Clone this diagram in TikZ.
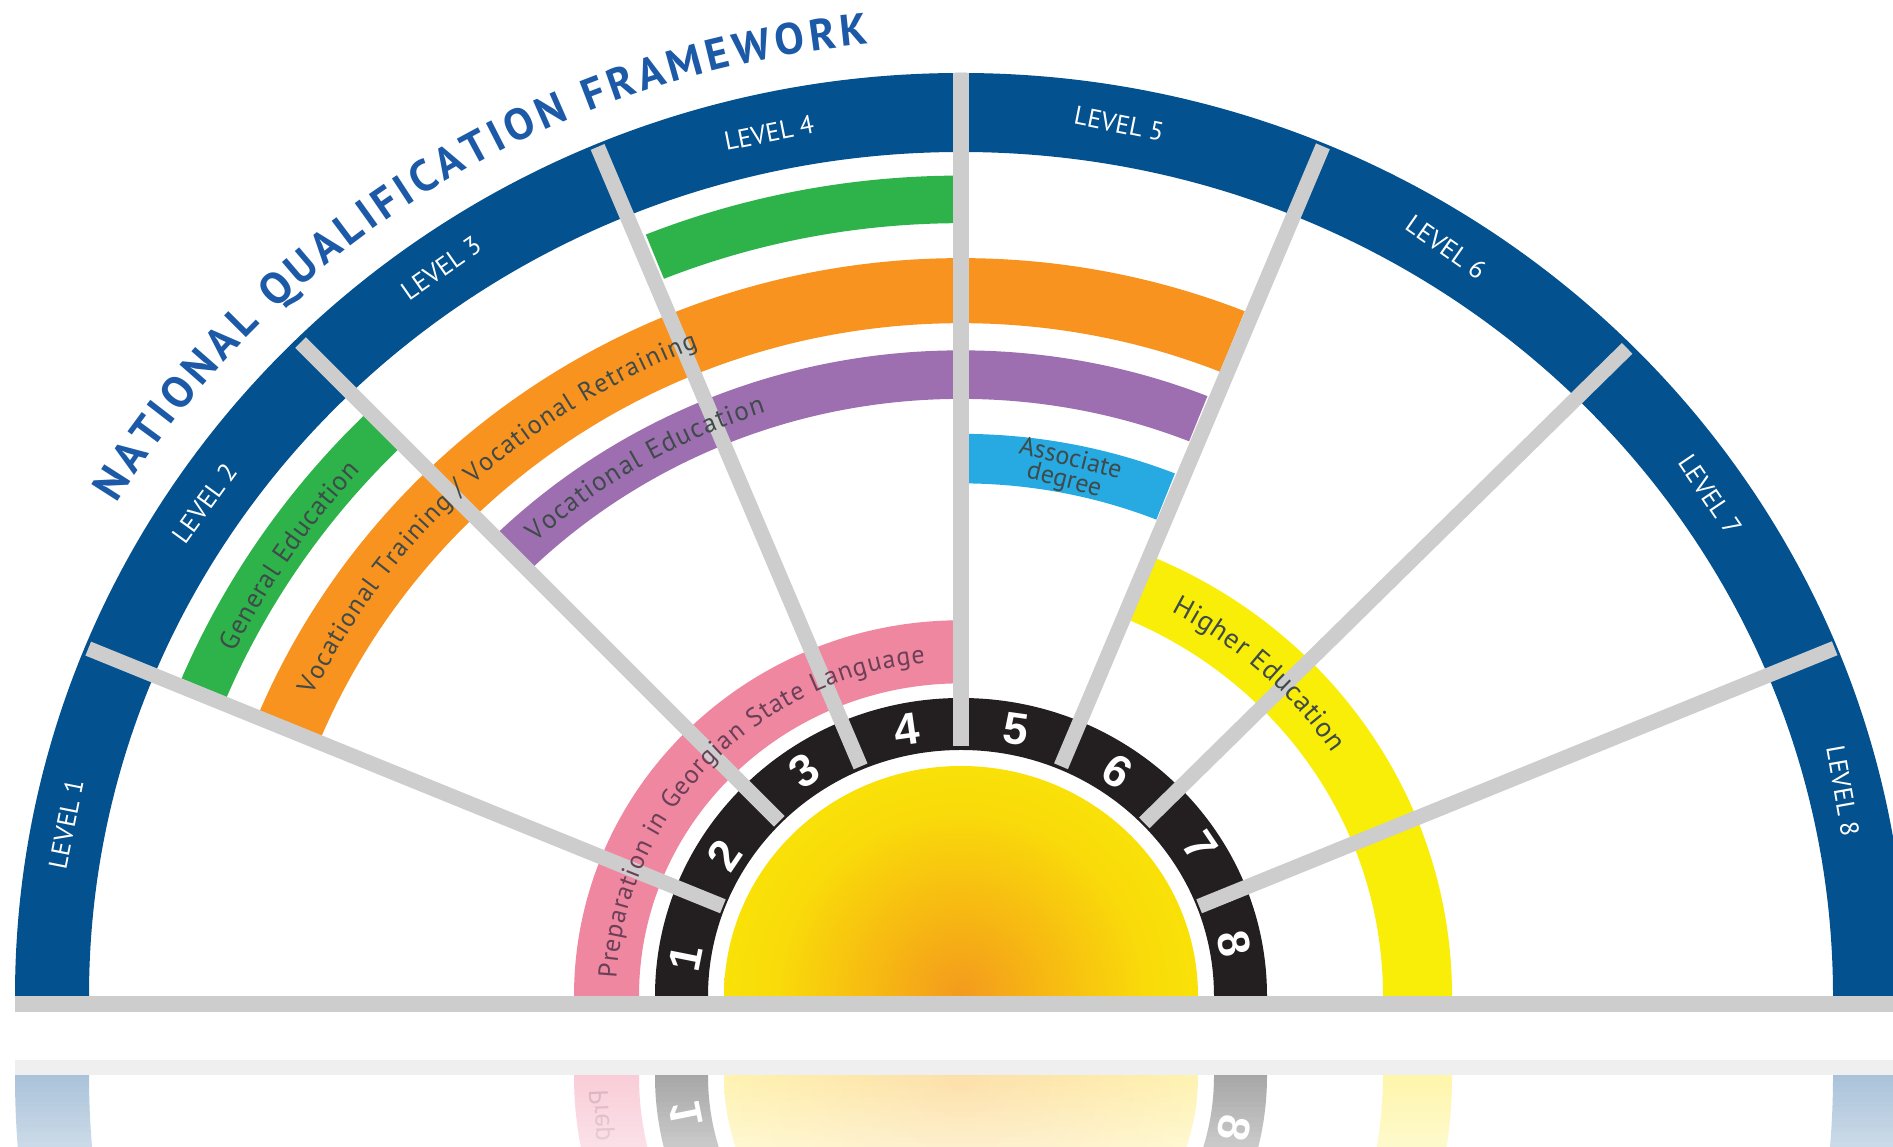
\documentclass[tikz,border=0pt]{standalone}
\usepackage{fontspec}
\setmainfont{PT Sans}
\newfontfamily\numfont{Liberation Sans}
\usetikzlibrary{calc,decorations.text}
\definecolor{ringblue}{HTML}{03518F}
\definecolor{titleblue}{HTML}{1C5AA8}
\definecolor{bandgreen}{HTML}{2DB34A}
\definecolor{bandorange}{HTML}{F7931E}
\definecolor{bandpurple}{HTML}{9E6FB0}
\definecolor{bandsky}{HTML}{27AAE1}
\definecolor{bandyellow}{HTML}{F8EE07}
\definecolor{bandpink}{HTML}{EF87A0}
\definecolor{ringblack}{HTML}{231F20}
\definecolor{raygrey}{HTML}{CDCDCD}
\definecolor{txtdark}{HTML}{3F4A4A}
\definecolor{txtpink}{HTML}{6B3F58}
\definecolor{sunA}{HTML}{F39A1E}
\definecolor{sunB}{HTML}{F6B214}
\definecolor{sunC}{HTML}{F9DA0A}
\definecolor{sunD}{HTML}{F9EC06}
\definecolor{sunE}{HTML}{F8EE08}
\definecolor{refA}{HTML}{FDDFA8}
\definecolor{refB}{HTML}{FEF3B0}
\pgfdeclareradialshading{sunshade}{\pgfpointorigin}{color(0bp)=(sunA); color(7bp)=(sunB); color(19bp)=(sunC); color(32bp)=(sunD); color(50bp)=(sunE)}
\pgfdeclareradialshading{sunreflect}{\pgfpointorigin}{color(0bp)=(refA); color(25bp)=(refB); color(50bp)=(refB)}
\newcommand{\lblfont}{\fontsize{27}{29}\selectfont}
\newcommand{\band}[5]{%
  \begin{scope}
    \clip (C) -- ($(C)+(#4:1500)$) -- ($(C)+(#5:1500)$) -- cycle;
    \fill[#1,even odd rule] (O) ellipse [x radius=#2,y radius=#2/1.03] (O) ellipse [x radius=#3,y radius=#3/1.03];
  \end{scope}}
\newcommand{\curved}[6]{% text, color, xr, from, to, font size
  \path[decorate,decoration={text along path,text align={fit to path},text={|\fontsize{#6}{#6}\selectfont\color{#2}|#1}}]
    ($(O)+(#4:#3 and #3/1.03)$) arc[start angle=#4,end angle=#5,x radius=#3,y radius=#3/1.03];}
\tikzset{
  raybar/.style={draw=raygrey,line width=15pt},
  levellabel/.style={text=white,font=\fontsize{26}{28}\selectfont,inner sep=0pt},
  numlabel/.style={text=white,font=\numfont\bfseries\fontsize{45}{47}\selectfont,inner sep=0pt},
  baseplate/.style={fill=raygrey}
}
\begin{document}
\begin{tikzpicture}[x=1pt,y=1pt]
\useasboundingbox (0,0) rectangle (1893,1147);
\clip (0,0) rectangle (1893,1147);
\fill[white] (0,0) rectangle (1893,1147);
\coordinate (O) at (961,151);
\coordinate (C) at (961,144);
\coordinate (M) at (961,71);
% reflection
\begin{scope}
  \clip (0,0) rectangle (1893,71);
  \fill[color={rgb,255:red,169;green,194;blue,217},even odd rule] (M) ellipse [x radius=946,y radius=923] (M) ellipse [x radius=872,y radius=846];
  \begin{scope}
    \clip (0,0) rectangle (961,71);
    \fill[color={rgb,255:red,249;green,205;blue,216},even odd rule] (M) ellipse [x radius=387,y radius=377] (M) ellipse [x radius=322,y radius=312];
  \end{scope}
  \fill[color={rgb,255:red,166;green,166;blue,166},even odd rule] (M) ellipse [x radius=306,y radius=298] (M) ellipse [x radius=253,y radius=246];
  \begin{scope}
    \clip (961,0) rectangle (1893,71);
    \fill[color={rgb,255:red,254;green,246;blue,170},even odd rule] (M) ellipse [x radius=491,y radius=477] (M) ellipse [x radius=422,y radius=410];
  \end{scope}
  \begin{scope}
    \clip (M) ellipse [x radius=237,y radius=230];
    \shade[shading=sunreflect] ($(M)+(-240,-240)$) rectangle ($(M)+(240,240)$);
  \end{scope}
  \node[numlabel,yscale=-1,rotate=78.75] (refone) at (686,33) {1};
  \node[numlabel,yscale=-1,rotate=-78.75] (refeight) at (1234,19) {8};
  \node[text=txtpink,opacity=.22,font=\lblfont,yscale=-1,rotate=88,inner sep=0pt] (refprep) at (602,31) {Prep};
  \foreach \yy in {0,5,...,70} {
    \fill[white,opacity={(71-\yy)/71*0.4}] (0,\yy) rectangle (1893,\yy+5);
  }
\end{scope}
\fill[color={rgb,255:red,239;green,239;blue,239}] (15,72) rectangle (1893,87);
% rings, above the base only
\begin{scope}
  \clip (0,140) rectangle (1893,1147);
  \fill[ringblue,even odd rule] (O) ellipse [x radius=946,y radius=923] (O) ellipse [x radius=872,y radius=844];
  \band{bandpink}{387}{322}{180}{90}
  \fill[ringblack,even odd rule] (O) ellipse [x radius=306,y radius=298] (O) ellipse [x radius=253,y radius=246];
  \begin{scope}
    \clip (O) ellipse [x radius=237,y radius=230];
    \shade[shading=sunshade] ($(O)+(-240,-240)$) rectangle ($(O)+(240,240)$);
  \end{scope}
  \band{bandgreen}{845}{796}{157.4}{135.3}
  \band{bandgreen}{845}{796}{112.3}{90}
  \band{bandorange}{760}{693}{157.9}{67.7}
  \band{bandpurple}{665}{615}{134.5}{67.9}
  \band{bandsky}{579}{528}{90}{68}
  \band{bandyellow}{491}{422}{0}{66.5}
\end{scope}
% rays
\foreach \a/\R in {157.9/942,135/934,113/930,67.1/930,44.5/934,22.1/943} {
  \draw[raybar] ($(C)+(\a:257)$) -- ($(C)+(\a:\R)$);
}
\draw[raygrey,line width=16pt] ($(C)+(90:257)$) -- ($(C)+(90:930)$);
\fill[baseplate] (15,135) rectangle (1893,151);
% title
\path[decorate,decoration={text along path,text align={fit to path},text={|\bfseries\fontsize{44}{46}\selectfont\color{titleblue}|NATIONAL QUALIFICATION FRAMEWORK}}]
  ($(O)+(149:985 and 956)$) arc[start angle=149,end angle=95.4,x radius=985,y radius=956];
% level labels
\node[levellabel,rotate=78.75] (lvone) at (66,323) {LEVEL 1};
\node[levellabel,rotate=54] (lvtwo) at (205,644) {LEVEL 2};
\node[levellabel,rotate=35] (lvthree) at (441,879) {LEVEL 3};
\node[levellabel,rotate=11.25] (lvfour) at (769,1014) {LEVEL 4};
\node[levellabel,rotate=-11.25] (lvfive) at (1119,1023) {LEVEL 5};
\node[levellabel,rotate=-35] (lvsix) at (1446,900) {LEVEL 6};
\node[levellabel,rotate=-56] (lvseven) at (1710,652) {LEVEL 7};
\node[levellabel,rotate=-80] (lveight) at (1843,356) {LEVEL 8};
% numbers
\node[numlabel,rotate=78.75] (nOne) at (686,189) {1};
\node[numlabel,rotate=56] (nTwo) at (724,292) {2};
\node[numlabel,rotate=34] (nThree) at (804,376) {3};
\node[numlabel,rotate=8] (nFour) at (907,418) {4};
\node[numlabel,rotate=-8] (nFive) at (1016,418) {5};
\node[numlabel,rotate=-33] (nSix) at (1117,376) {6};
\node[numlabel,rotate=-56] (nSeven) at (1200,301) {7};
\node[numlabel,rotate=-78.75] (nEight) at (1234,203) {8};
% band texts
\curved{General Education}{txtdark}{808}{154}{138}{27}
\curved{Vocational Training / Vocational Retraining}{txtdark}{718}{154.5}{111.5}{26}
\curved{Vocational Education}{txtdark}{632}{132.3}{108}{27}
\curved{Preparation in Georgian State Language}{txtpink}{345}{177}{96}{26}
\curved{Higher Education}{txtdark}{448}{62}{34}{28}
\node[text=txtdark,font=\fontsize{26}{28}\selectfont,rotate=-14,inner sep=0pt] (assocA) at (1071,690) {Associate};
\node[text=txtdark,font=\fontsize{26}{28}\selectfont,rotate=-14,inner sep=0pt] (assocB) at (1064,666) {degree};
\end{tikzpicture}
\end{document}
